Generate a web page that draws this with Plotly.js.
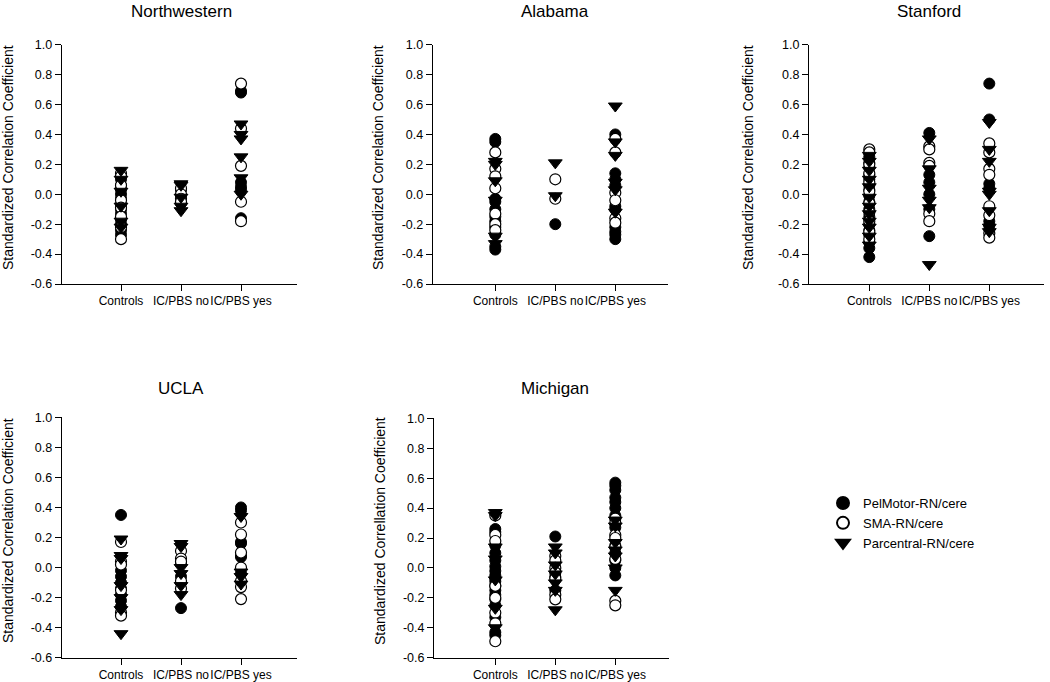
<!DOCTYPE html>
<html>
<head>
<meta charset="utf-8">
<script src="https://cdn.plot.ly/plotly-3.0.1.min.js"></script>
<style>html,body{margin:0;padding:0;background:#fff;}#chart{width:1050px;height:682px;}</style>
</head>
<body>
<div id="chart"></div>
<script>
// ---------- DATA ----------
const categories = ['Controls', 'IC/PBS no', 'IC/PBS yes'];
const panelTitles = ['Northwestern', 'Alabama', 'Stanford', 'UCLA', 'Michigan'];
const seriesNames = ['PelMotor-RN/cere', 'SMA-RN/cere', 'Parcentral-RN/cere'];
const yTitles = ['Standardized Correlation Coefficient', 'Standardized Correlation Coefficient',
  'Standardized Correlation Coefficient', 'Standardized Correlation Coefficient',
  'Standardized Correllation Coefficient'];
const yTickVals = [-0.6, -0.4, -0.2, 0.0, 0.2, 0.4, 0.6, 0.8, 1.0];

// Northwestern
const nwPelCtrl = [0.10, 0.06, 0.03, 0.00, -0.03, -0.07, -0.10, -0.13, -0.17, -0.20, -0.24, -0.27];
const nwPelNo   = [0.03, -0.02, -0.06];
const nwPelYes  = [0.69, 0.68, 0.08, 0.05, 0.03, -0.16];
const nwSmaCtrl = [0.14, 0.12, 0.06, -0.04, -0.09, -0.15, -0.22, -0.30];
const nwSmaNo   = [0.04, 0.00, -0.03, -0.05];
const nwSmaYes  = [0.74, 0.44, 0.19, -0.05, -0.18];
const nwTriCtrl = [0.16, 0.10, 0.02, -0.08, -0.18, -0.22];
const nwTriNo   = [0.07, 0.06, -0.02, -0.08, -0.11];
const nwTriYes  = [0.47, 0.40, 0.37, 0.25, 0.11, 0.00];

// Alabama
const alPelCtrl = [0.37, 0.35, -0.03, -0.05, -0.10, -0.15, -0.18, -0.22, -0.27, -0.35, -0.37];
const alPelNo   = [-0.20];
const alPelYes  = [0.40, 0.14, 0.10, 0.06, -0.08, -0.10, -0.22, -0.25, -0.27, -0.30];
const alSmaCtrl = [0.28, 0.17, 0.12, 0.04, -0.13, -0.20, -0.24];
const alSmaNo   = [0.10, -0.03];
const alSmaYes  = [0.37, 0.28, 0.01, -0.04, -0.16, -0.19];
const alTriCtrl = [0.22, 0.20, 0.09, -0.04, -0.28, -0.33];
const alTriNo   = [0.21, -0.01];
const alTriYes  = [0.59, 0.35, 0.26, 0.08, 0.03, -0.12];

// Stanford
const stPelCtrl = [0.25, 0.21, 0.18, 0.13, 0.10, 0.06, 0.03, -0.01, -0.05, -0.10, -0.15, -0.20, -0.24, -0.27, -0.32, -0.36, -0.42];
const stPelNo   = [0.41, 0.13, 0.08, 0.00, -0.10, -0.28];
const stPelYes  = [0.74, 0.50, 0.07, 0.04, -0.18, -0.21];
const stSmaCtrl = [0.30, 0.28, 0.20, 0.14, 0.08, 0.02, -0.06, -0.12, -0.18, -0.25, -0.30];
const stSmaNo   = [0.32, 0.30, 0.21, 0.19, -0.13, -0.18];
const stSmaYes  = [0.34, 0.28, 0.17, 0.13, -0.08, -0.14, -0.26, -0.29];
const stTriCtrl = [0.26, 0.22, 0.16, 0.10, 0.05, -0.02, -0.08, -0.13, -0.18, -0.22, -0.28, -0.34];
const stTriNo   = [0.37, 0.17, 0.04, -0.04, -0.09, -0.47];
const stTriYes  = [0.48, 0.30, 0.22, 0.02, 0.00, -0.11, -0.22, -0.25];

// UCLA
const ucPelCtrl = [0.35, -0.02, -0.06, -0.10, -0.14, -0.18, -0.22, -0.26];
const ucPelNo   = [0.03, -0.06, -0.10, -0.27];
const ucPelYes  = [0.40, 0.38, 0.17, 0.16, 0.08, 0.07, -0.04];
const ucSmaCtrl = [0.17, 0.04, 0.02, -0.15, -0.30, -0.32];
const ucSmaNo   = [0.11, 0.06, 0.04, -0.09, -0.14];
const ucSmaYes  = [0.30, 0.22, 0.10, 0.00, -0.09, -0.13, -0.21];
const ucTriCtrl = [0.19, 0.08, 0.06, -0.12, -0.20, -0.28, -0.44];
const ucTriNo   = [0.16, 0.14, 0.00, -0.04, -0.12, -0.18];
const ucTriYes  = [0.34, -0.03, -0.06, -0.11];

// Michigan
const miPelCtrl = [0.26, 0.24, 0.15, 0.10, 0.05, 0.01, -0.02, -0.05, -0.07, -0.09, -0.12, -0.15, -0.18, -0.21, -0.25, -0.33, -0.43, -0.45];
const miPelNo   = [0.21, -0.06, -0.15];
const miPelYes  = [0.57, 0.55, 0.52, 0.47, 0.44, 0.40, 0.35, 0.27, 0.15, 0.10, 0.05, 0.00, -0.05];
const miSmaCtrl = [0.35, 0.22, 0.18, -0.12, -0.20, -0.30, -0.37, -0.49];
const miSmaNo   = [0.08, 0.05, 0.00, -0.03, -0.07, -0.18, -0.21];
const miSmaYes  = [0.33, 0.30, 0.22, 0.20, 0.14, 0.06, -0.22, -0.25];
const miTriCtrl = [0.37, 0.35, 0.14, 0.06, -0.08, -0.27, -0.40];
const miTriNo   = [0.14, 0.10, 0.02, -0.04, -0.10, -0.15, -0.28];
const miTriYes  = [0.32, 0.28, 0.17, 0.12, 0.08, 0.00, -0.15];

const panelData = [
  [[nwPelCtrl, nwPelNo, nwPelYes], [nwSmaCtrl, nwSmaNo, nwSmaYes], [nwTriCtrl, nwTriNo, nwTriYes]],
  [[alPelCtrl, alPelNo, alPelYes], [alSmaCtrl, alSmaNo, alSmaYes], [alTriCtrl, alTriNo, alTriYes]],
  [[stPelCtrl, stPelNo, stPelYes], [stSmaCtrl, stSmaNo, stSmaYes], [stTriCtrl, stTriNo, stTriYes]],
  [[ucPelCtrl, ucPelNo, ucPelYes], [ucSmaCtrl, ucSmaNo, ucSmaYes], [ucTriCtrl, ucTriNo, ucTriYes]],
  [[miPelCtrl, miPelNo, miPelYes], [miSmaCtrl, miSmaNo, miSmaYes], [miTriCtrl, miTriNo, miTriYes]]
];

// ---------- STYLE / LAYOUT ----------
const W = 1050, H = 682;
const FONT = 'Liberation Sans, Arial, sans-serif';
const markerStyles = [
  {symbol: 'circle', size: 11, color: '#000000', line: {color: '#000000', width: 1}},
  {symbol: 'circle', size: 11, color: '#ffffff', line: {color: '#000000', width: 1.2}},
  {symbol: 'triangle-down', size: 12, color: '#000000', line: {color: '#000000', width: 1}}
];
// pixel geometry of each plot area: [left, right, top, bottom, firstTickX, yTitleX, titleY, yTitleY]
const geom = [
  [61.7, 297, 44.7, 284, 121, 8, 12, 158],
  [432.7, 668, 44.7, 284, 495.3, 378, 12, 158],
  [809, 1044, 44.7, 284, 869.3, 748, 12, 158],
  [61.7, 297, 417.3, 657.7, 121, 8, 388, 531],
  [434, 669, 418.3, 657.7, 495.3, 380, 388, 531]
];
const catSpacing = 60;

const traces = [];
const layout = {
  width: W, height: H,
  margin: {l: 0, r: 0, t: 0, b: 0},
  paper_bgcolor: '#ffffff', plot_bgcolor: '#ffffff',
  font: {family: FONT, color: '#000000'},
  showlegend: true,
  legend: {
    x: 823 / W, y: 1 - 488 / H, xanchor: 'left', yanchor: 'top',
    font: {family: FONT, size: 13, color: '#000000'},
    bgcolor: 'rgba(0,0,0,0)', borderwidth: 0, tracegroupgap: 0, itemsizing: 'constant'
  },
  annotations: []
};

panelData.forEach((panel, p) => {
  const g = geom[p];
  const ax = p === 0 ? '' : String(p + 1);
  const xStart = 1 - (g[4] - g[0]) / catSpacing;
  const xEnd = xStart + (g[1] - g[0]) / catSpacing;
  layout['xaxis' + ax] = {
    domain: [g[0] / W, g[1] / W],
    range: [xStart, xEnd],
    anchor: 'y' + ax,
    tickmode: 'array', tickvals: categories.map((c, i) => i + 1), ticktext: categories,
    tickangle: 0,
    ticks: 'outside', ticklen: 6, tickwidth: 1, tickcolor: '#000',
    showline: true, linecolor: '#000', linewidth: 1,
    showgrid: false, zeroline: false,
    tickfont: {family: FONT, size: 12, color: '#000'},
    fixedrange: true
  };
  layout['yaxis' + ax] = {
    domain: [1 - g[3] / H, 1 - g[2] / H],
    range: [-0.6, 1.0],
    anchor: 'x' + ax,
    tickmode: 'array', tickvals: yTickVals, ticktext: yTickVals.map(v => v.toFixed(1)),
    ticks: 'outside', ticklen: 6, tickwidth: 1, tickcolor: '#000',
    showline: true, linecolor: '#000', linewidth: 1,
    showgrid: false, zeroline: false,
    tickfont: {family: FONT, size: 12.5, color: '#000'},
    fixedrange: true
  };
  panel.forEach((series, s) => {
    const xs = [], ys = [];
    series.forEach((vals, c) => {
      vals.forEach(v => { xs.push(c + 1); ys.push(v); });
    });
    traces.push({
      type: 'scatter', mode: 'markers',
      x: xs, y: ys,
      xaxis: 'x' + ax, yaxis: 'y' + ax,
      name: seriesNames[s],
      showlegend: p === 0,
      legendgroup: seriesNames[s],
      marker: markerStyles[s],
      cliponaxis: false,
      hoverinfo: 'skip'
    });
  });
  layout.annotations.push({
    text: panelTitles[p], xref: 'paper', yref: 'paper',
    x: ((g[4] + catSpacing) / W), y: 1 - g[6] / H,
    xanchor: 'center', yanchor: 'middle', showarrow: false,
    font: {family: FONT, size: 17, color: '#000'}
  });
  layout.annotations.push({
    text: yTitles[p], xref: 'paper', yref: 'paper',
    x: g[5] / W, y: 1 - g[7] / H, textangle: -90,
    xanchor: 'center', yanchor: 'middle', showarrow: false,
    font: {family: FONT, size: 14, color: '#000'}
  });
});

Plotly.newPlot('chart', traces, layout, {displayModeBar: false, staticPlot: true});
</script>
</body>
</html>
